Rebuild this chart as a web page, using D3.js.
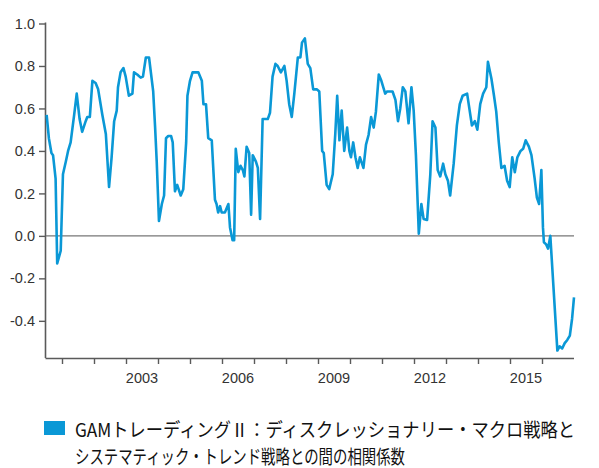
<!DOCTYPE html>
<html>
<head>
<meta charset="utf-8">
<script src="https://cdn.jsdelivr.net/npm/d3@7/dist/d3.min.js"></script>
<style>
  body { margin: 0; background: #fff; }
  svg { display: block; }
</style>
</head>
<body>
<div id="chart"></div>
<script>
// decimal years, with the correlation at each vertex
const years = [
  2000.52, 2000.59, 2000.67, 2000.72, 2000.80, 2000.85, 2000.96, 2001.03, 2001.12, 2001.19,
  2001.27, 2001.38, 2001.46, 2001.55, 2001.63, 2001.74, 2001.79, 2001.87, 2001.95, 2002.05,
  2002.13, 2002.26, 2002.37, 2002.47, 2002.55, 2002.63, 2002.71, 2002.75, 2002.83, 2002.92,
  2002.99, 2003.09, 2003.20, 2003.25, 2003.35, 2003.46, 2003.53, 2003.62, 2003.72, 2003.85,
  2003.91, 2003.96, 2004.03, 2004.12, 2004.19, 2004.25, 2004.32, 2004.41, 2004.46, 2004.53,
  2004.60, 2004.71, 2004.79, 2004.88, 2004.92, 2005.00, 2005.08, 2005.16, 2005.26, 2005.37,
  2005.42, 2005.50, 2005.57, 2005.68, 2005.78, 2005.83, 2005.88, 2005.94, 2005.99, 2006.09,
  2006.20, 2006.25, 2006.33, 2006.38, 2006.43, 2006.51, 2006.58, 2006.65, 2006.70, 2006.77,
  2006.85, 2006.91, 2006.96, 2007.06, 2007.12, 2007.19, 2007.27, 2007.38, 2007.43, 2007.50,
  2007.58, 2007.67, 2007.74, 2007.84, 2007.95, 2008.02, 2008.10, 2008.18, 2008.26, 2008.37,
  2008.45, 2008.50, 2008.59, 2008.68, 2008.76, 2008.85, 2008.96, 2009.04, 2009.13, 2009.18,
  2009.27, 2009.35, 2009.46, 2009.54, 2009.60, 2009.67, 2009.74, 2009.82, 2009.91, 2009.98,
  2010.03, 2010.10, 2010.17, 2010.24, 2010.31, 2010.42, 2010.50, 2010.58, 2010.66, 2010.74,
  2010.81, 2010.90, 2010.98, 2011.10, 2011.16, 2011.26, 2011.33, 2011.42, 2011.50, 2011.57,
  2011.65, 2011.73, 2011.83, 2011.92, 2011.99, 2012.06, 2012.15, 2012.23, 2012.30, 2012.41,
  2012.51, 2012.58, 2012.67, 2012.74, 2012.82, 2012.91, 2012.98, 2013.06, 2013.13, 2013.24,
  2013.34, 2013.43, 2013.52, 2013.66, 2013.81, 2013.90, 2013.98, 2014.07, 2014.16, 2014.26,
  2014.31, 2014.42, 2014.50, 2014.57, 2014.65, 2014.73, 2014.83, 2014.91, 2014.99, 2015.07,
  2015.15, 2015.23, 2015.33, 2015.41, 2015.49, 2015.59, 2015.67, 2015.77, 2015.84, 2015.91,
  2015.98, 2016.03, 2016.06, 2016.13, 2016.19, 2016.26, 2016.48, 2016.55, 2016.63, 2016.71,
  2016.79, 2016.87, 2016.94, 2017.00
];
const values = [
  0.57, 0.46, 0.39, 0.38, 0.27, -0.13, -0.07, 0.29, 0.35, 0.40,
  0.44, 0.57, 0.67, 0.55, 0.49, 0.54, 0.56, 0.56, 0.73, 0.72,
  0.69, 0.57, 0.48, 0.23, 0.37, 0.54, 0.59, 0.70, 0.77, 0.79,
  0.75, 0.66, 0.67, 0.77, 0.76, 0.745, 0.75, 0.84, 0.84, 0.68,
  0.51, 0.35, 0.07, 0.15, 0.19, 0.46, 0.47, 0.47, 0.44, 0.21,
  0.24, 0.19, 0.22, 0.44, 0.66, 0.73, 0.77, 0.77, 0.77, 0.73,
  0.62, 0.62, 0.46, 0.45, 0.17, 0.15, 0.11, 0.14, 0.11, 0.11,
  0.15, 0.04, -0.02, -0.02, 0.41, 0.30, 0.33, 0.31, 0.28, 0.42,
  0.39, 0.10, 0.38, 0.35, 0.32, 0.08, 0.55, 0.55, 0.55, 0.58,
  0.75, 0.81, 0.80, 0.77, 0.80, 0.73, 0.62, 0.56, 0.67, 0.84,
  0.84, 0.91, 0.93, 0.81, 0.79, 0.69, 0.69, 0.68, 0.40, 0.39,
  0.24, 0.22, 0.29, 0.48, 0.66, 0.45, 0.59, 0.40, 0.51, 0.40,
  0.37, 0.44, 0.37, 0.32, 0.37, 0.32, 0.43, 0.475, 0.56, 0.51,
  0.585, 0.76, 0.73, 0.67, 0.68, 0.68, 0.68, 0.64, 0.54, 0.60,
  0.70, 0.68, 0.53, 0.70, 0.59, 0.38, 0.01, 0.15, 0.08, 0.075,
  0.29, 0.54, 0.51, 0.31, 0.28, 0.34, 0.29, 0.26, 0.19, 0.34,
  0.52, 0.62, 0.66, 0.67, 0.52, 0.54, 0.50, 0.62, 0.67, 0.70,
  0.82, 0.74, 0.66, 0.585, 0.44, 0.32, 0.33, 0.26, 0.23, 0.37,
  0.30, 0.37, 0.40, 0.41, 0.45, 0.42, 0.38, 0.27, 0.18, 0.15,
  0.31, 0.04, -0.03, -0.04, -0.06, 0.00, -0.54, -0.52, -0.53, -0.505,
  -0.49, -0.47, -0.39, -0.29
];
const yTicks = [1.0, 0.8, 0.6, 0.4, 0.2, 0.0, -0.2, -0.4];
const yearTicks = d3.range(2001, 2017);
const yearLabels = [2003, 2006, 2009, 2012, 2015];
const legendLines = [
  "GAMトレーディングⅡ：ディスクレッショナリー・マクロ戦略と",
  "システマティック・トレンド戦略との間の相関係数"
];

const width = 599, height = 468;
const margin = { top: 23.5, right: 25, bottom: 110, left: 46 };
const innerWidth = width - margin.left - margin.right;
const innerHeight = height - margin.top - margin.bottom;

const data = years.map((t, i) => ({ t, v: values[i] }));

const svg = d3.select("#chart")
  .append("svg")
  .attr("width", width)
  .attr("height", height);

const g = svg.append("g")
  .attr("transform", `translate(${margin.left},${margin.top})`);

const x = d3.scaleLinear()
  .domain([2000.5, 2017])
  .range([0, innerWidth]);

const y = d3.scaleLinear()
  .domain([-0.575, 1.0])
  .range([innerHeight, 0]);

const axisColor = "#5a5a5a";
const labelFont = "'Liberation Sans', Arial, sans-serif";

// Y axis
const yAxis = g.append("g")
  .call(d3.axisLeft(y)
    .tickValues(yTicks)
    .tickSize(7)
    .tickPadding(4)
    .tickFormat(d => d.toFixed(1)));
yAxis.select(".domain").attr("stroke", axisColor).attr("stroke-width", 1.6)
  .attr("d", `M-0.5,${y(1.0) - 1}V${innerHeight}`);
yAxis.selectAll(".tick line").attr("stroke", axisColor).attr("stroke-width", 1.4);
yAxis.selectAll(".tick text")
  .attr("fill", "#333")
  .style("font-family", labelFont)
  .style("font-size", "14.5px");

// X axis (ticks at every year, labels centred on the year)
const xAxis = g.append("g")
  .attr("transform", `translate(0,${innerHeight})`)
  .call(d3.axisBottom(x)
    .tickValues(yearTicks)
    .tickSize(6)
    .tickFormat(""));
xAxis.select(".domain").attr("stroke", axisColor).attr("stroke-width", 1.6)
  .attr("d", `M-0.5,0.5H${innerWidth}`);
xAxis.selectAll(".tick line").attr("stroke", axisColor).attr("stroke-width", 1.4);

xAxis.selectAll(".year-label")
  .data(yearLabels)
  .enter()
  .append("text")
  .attr("class", "year-label")
  .attr("x", d => x(d + 0.5))
  .attr("y", 25)
  .attr("text-anchor", "middle")
  .attr("fill", "#333")
  .style("font-family", labelFont)
  .style("font-size", "14.5px")
  .text(d => d);

// zero line
g.append("line")
  .attr("x1", 0)
  .attr("x2", innerWidth)
  .attr("y1", y(0))
  .attr("y2", y(0))
  .attr("stroke", "#777")
  .attr("stroke-width", 1.2);

// correlation line
const line = d3.line()
  .x(d => x(d.t))
  .y(d => y(d.v));

g.append("path")
  .datum(data)
  .attr("fill", "none")
  .attr("stroke", "#0a98d6")
  .attr("stroke-width", 2.6)
  .attr("stroke-linejoin", "round")
  .attr("d", line);

// legend
const legend = svg.append("g").attr("transform", "translate(44,421)");
legend.append("rect")
  .attr("width", 21)
  .attr("height", 14)
  .attr("fill", "#0a98d6");

const legendFont = "'Noto Sans CJK JP', sans-serif";
const legendWidths = [500, 330];
legend.selectAll(".legend-text")
  .data(legendLines)
  .enter()
  .append("text")
  .attr("class", "legend-text")
  .attr("x", 31)
  .attr("y", (d, i) => 16 + i * 27)
  .attr("textLength", (d, i) => legendWidths[i])
  .attr("lengthAdjust", "spacingAndGlyphs")
  .attr("fill", "#111")
  .style("font-family", legendFont)
  .style("font-size", "19px")
  .text(d => d);
</script>
</body>
</html>
